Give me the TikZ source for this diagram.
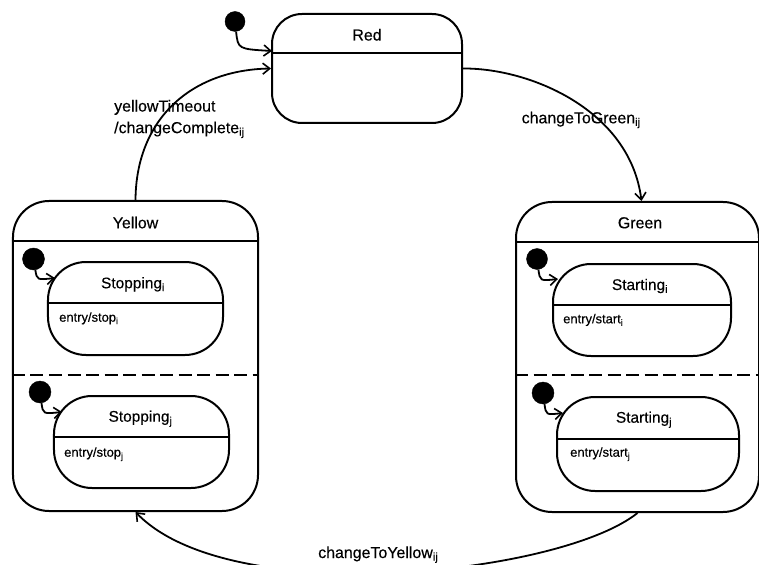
\documentclass[tikz,border=0pt]{standalone}
\usepackage{fontspec}
\setmainfont{Liberation Sans}[FakeBold=0.35]
\usetikzlibrary{arrows.meta}
\begin{document}
\begin{tikzpicture}[x=1bp,y=-1bp,
  statebox/.style={draw, line width=2bp, rounded corners=#1, inner sep=0pt},
  statebox/.default=30bp,
  divider/.style={line width=1.9bp},
  region/.style={line width=1.9bp, dash pattern=on 13bp off 5.5bp},
  initdot/.style={circle, fill=black, draw=black, inner sep=0pt, minimum size=20bp},
  trans/.style={line width=1.8bp, -{Straight Barb[length=7bp,width=11bp,line width=1.6bp]}},
  title/.style={font=\fontsize{16}{19}\selectfont, inner sep=0pt, anchor=base},
  substate/.style={font=\fontsize{15.5}{18}\selectfont, inner sep=0pt, anchor=base},
  action/.style={font=\fontsize{13}{15}\selectfont, inner sep=0pt, anchor=base west},
  event/.style={font=\fontsize{16}{21.7}\selectfont, inner sep=0pt}
]
\useasboundingbox (0,0) rectangle (759,565);
\clip (0,0) rectangle (759,565);

% ---------- Red ----------
\node[statebox=30bp, minimum width=190bp, minimum height=109bp] (red) at (367,68.5) {};
\draw[divider] (red.west |- 0,53) -- (red.east |- 0,53);
\node[title] (redName) at (367,40.5) {Red};
\node[initdot] (redInit) at (235,21.5) {};
\coordinate (redInitIn) at (272,51);
\draw[trans] (redInit) .. controls (238,49) .. (redInitIn);

% ---------- Yellow (composite) ----------
\node[statebox=36bp, minimum width=245bp, minimum height=310bp] (yellow) at (135.5,356) {};
\draw[divider] (yellow.west |- 0,241) -- (yellow.east |- 0,241);
\draw[region] (yellow.west |- 0,375) -- (yellow.east |- 0,375);
\node[title] (yellowName) at (135.5,228.3) {Yellow};

\node[statebox=38bp, minimum width=175bp, minimum height=93bp] (stopI) at (135.5,308.5) {};
\draw[divider] (stopI.west |- 0,303) -- (stopI.east |- 0,303);
\node[substate] (stopIName) at (133,288.3) {Stopping\textsubscript{i}};
\node[action] (stopIEntry) at (59,321.7) {entry/stop\textsubscript{i}};
\node[initdot, minimum size=22bp] (stopIInit) at (33.5,259) {};
\coordinate (stopIIn) at (55,278);
\draw[trans] (stopIInit) .. controls (37,280) .. (stopIIn);

\node[statebox=38bp, minimum width=175bp, minimum height=92bp] (stopJ) at (141.5,442) {};
\draw[divider] (stopJ.west |- 0,437) -- (stopJ.east |- 0,437);
\node[substate] (stopJName) at (140.5,421.7) {Stopping\textsubscript{j}};
\node[action] (stopJEntry) at (64,456.7) {entry/stop\textsubscript{j}};
\node[initdot, minimum size=22bp] (stopJInit) at (40,392) {};
\coordinate (stopJIn) at (62,412);
\draw[trans] (stopJInit) .. controls (43,414) .. (stopJIn);

% ---------- Green (composite) ----------
\node[statebox=36bp, minimum width=243bp, minimum height=310bp] (green) at (637.5,357) {};
\draw[divider] (green.west |- 0,242) -- (green.east |- 0,242);
\draw[region] (green.west |- 0,375) -- (green.east |- 0,375);
\node[title] (greenName) at (640,228.3) {Green};

\node[statebox=38bp, minimum width=178bp, minimum height=92bp] (startI) at (642,310) {};
\draw[divider] (startI.west |- 0,305) -- (startI.east |- 0,305);
\node[substate] (startIName) at (640,290) {Starting\textsubscript{i}};
\node[action] (startIEntry) at (563,323.3) {entry/start\textsubscript{i}};
\node[initdot, minimum size=21bp] (startIInit) at (537,259) {};
\coordinate (startIIn) at (558,279);
\draw[trans] (startIInit) .. controls (540,281) .. (startIIn);

\node[statebox=38bp, minimum width=182bp, minimum height=94bp] (startJ) at (648,444) {};
\draw[divider] (startJ.west |- 0,439) -- (startJ.east |- 0,439);
\node[substate] (startJName) at (644,422.7) {Starting\textsubscript{j}};
\node[action] (startJEntry) at (570,456.7) {entry/start\textsubscript{j}};
\node[initdot, minimum size=22bp] (startJInit) at (543,393) {};
\coordinate (startJIn) at (563,413);
\draw[trans] (startJInit) .. controls (546,415) .. (startJIn);

% ---------- transitions between the top-level states ----------
\draw[trans] (red.east) .. controls (530,68) and (630,110) .. ([xshift=4bp]green.north);
\node[event, anchor=base west] (toGreen) at (521.5,123.3) {changeToGreen\textsubscript{ij}};

\draw[trans] (yellow.north) .. controls (136,120) and (190,70) .. (red.west);
\node[event, anchor=west, align=left] (timeout) at (114,119)
  {yellowTimeout\\/changeComplete\textsubscript{ij}};

\draw[trans] (green.south) .. controls (560,575) and (230,610) .. (yellow.south);
\node[event, anchor=base west] (toYellow) at (318,558) {changeToYellow\textsubscript{ij}};
\end{tikzpicture}
\end{document}
